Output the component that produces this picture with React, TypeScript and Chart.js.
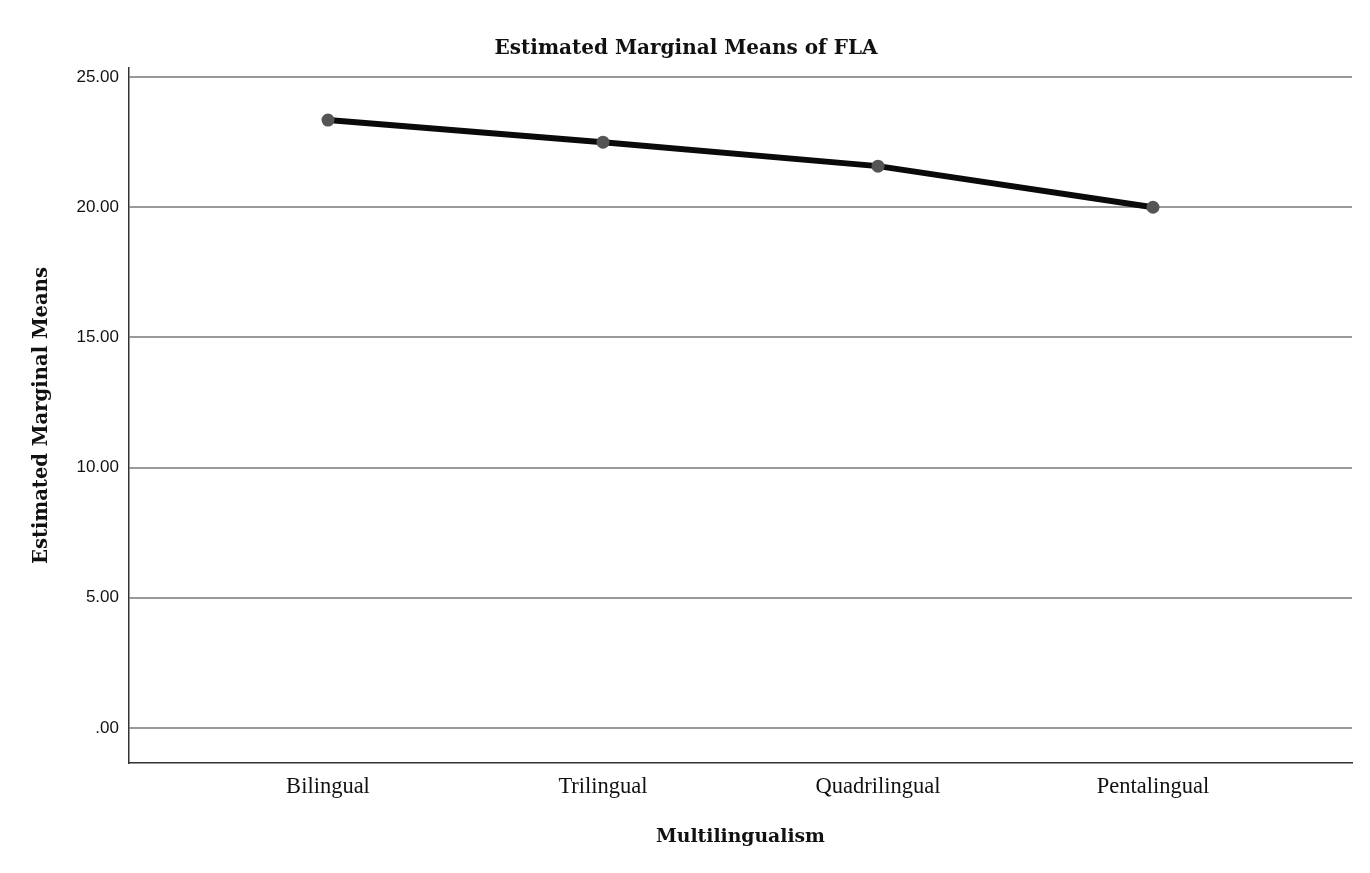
import React, { useEffect, useRef } from "react";
import { Chart, registerables } from "chart.js";

Chart.register(...registerables);

const categories = ["Bilingual", "Trilingual", "Quadrilingual", "Pentalingual"];
const means = [23.35, 22.5, 21.58, 20.0];
const yTicks = [0, 5, 10, 15, 20, 25];
const chartTitle = "Estimated Marginal Means of FLA";
const yTitle = "Estimated Marginal Means";
const xTitle = "Multilingualism";

export default function App() {
  const ref = useRef<HTMLCanvasElement>(null);
  useEffect(() => {
    if (!ref.current) return;
    const serif = "'DejaVu Serif', serif";
    const serif2 = "'Liberation Serif', 'Times New Roman', serif";
    const sans = "'Liberation Sans', Arial, sans-serif";
    const chart = new Chart(ref.current, {
      type: "line",
      data: {
        datasets: [
          {
            data: means.map((v, i) => ({ x: i, y: v })),
            borderColor: "#0a0a0a",
            borderWidth: 6,
            pointRadius: 6.5,
            pointBackgroundColor: "#555555",
            pointBorderColor: "#555555",
            pointBorderWidth: 0,
            tension: 0,
          },
        ],
      },
      options: {
        animation: false,
        responsive: false,
        layout: { padding: { left: 10, right: 8, top: 0, bottom: 0 } },
        plugins: {
          legend: { display: false },
          tooltip: { enabled: false },
          title: {
            display: true,
            text: chartTitle,
            color: "#111111",
            font: { family: serif, size: 20, weight: "bold", lineHeight: 1.2 },
            padding: { top: 37, bottom: 7 },
          },
        },
        scales: {
          x: {
            type: "linear",
            min: -0.7236,
            max: 3.7236,
            afterBuildTicks: (s: any) => {
              s.ticks = categories.map((_, i) => ({ value: i }));
            },
            afterFit: (s: any) => {
              s.height = 110;
            },
            grid: { display: false, drawTicks: false },
            border: { display: true, color: "#333333", width: 1.5 },
            ticks: {
              callback: (v: any) => categories[v as number] ?? "",
              color: "#111111",
              font: { family: serif2, size: 22.5 },
              padding: 11,
              maxRotation: 0,
            },
            title: {
              display: true,
              text: xTitle,
              color: "#111111",
              font: { family: serif, size: 18.8, weight: "bold", lineHeight: 1.2 },
              padding: { top: 0, bottom: 25 },
            },
          },
          y: {
            type: "linear",
            min: -1.35,
            max: 25.35,
            afterBuildTicks: (s: any) => {
              s.ticks = yTicks.map((v) => ({ value: v }));
            },
            afterFit: (s: any) => {
              s.width = 119;
            },
            grid: { color: "#999999", lineWidth: 2, drawTicks: false },
            border: { display: true, color: "#333333", width: 1.5 },
            ticks: {
              callback: (v: any) => (v === 0 ? ".00" : Number(v).toFixed(2)),
              color: "#111111",
              font: { family: sans, size: 17 },
              padding: 10,
            },
            title: {
              display: true,
              text: yTitle,
              color: "#111111",
              font: { family: serif, size: 19.6, weight: "bold", lineHeight: 1.2 },
              padding: { top: 20, bottom: 0 },
            },
          },
          y2: {
            type: "linear",
            position: "right",
            min: 0,
            max: 1,
            afterFit: (s: any) => {
              s.width = 10;
            },
            grid: { display: false, drawTicks: false },
            border: { display: false },
            ticks: { display: false },
          },
        },
      },
    } as any);
    return () => chart.destroy();
  }, []);
  return (
    <div style={{ position: "fixed", left: 0, top: 0, width: 1370, height: 873, background: "#fff" }}>
      <canvas ref={ref} width={1370} height={873} style={{ width: 1370, height: 873 }} />
    </div>
  );
}
